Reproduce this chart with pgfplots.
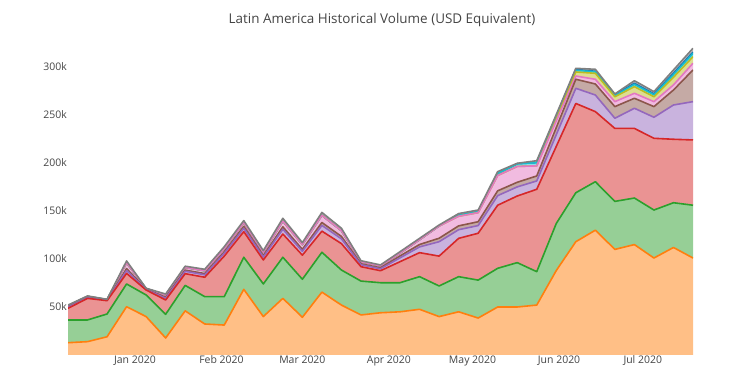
\documentclass[border=0pt]{standalone}
\usepackage{pgfplots}
\pgfplotsset{compat=1.18}
\usepackage{pgfplotstable}
\usepgfplotslibrary{fillbetween}
\usepackage{fontspec}
\setmainfont{Open Sans}
\definecolor{cO}{HTML}{FF7F0E}
\definecolor{cG}{HTML}{2CA02C}
\definecolor{cR}{HTML}{D62728}
\definecolor{cP}{HTML}{9467BD}
\definecolor{cB}{HTML}{8C564B}
\definecolor{cK}{HTML}{E377C2}
\definecolor{cL}{HTML}{BCBD22}
\definecolor{cC}{HTML}{17BECF}
\definecolor{cU}{HTML}{1F77B4}
\definecolor{cY}{HTML}{7F7F7F}
\definecolor{txt}{HTML}{444444}
% cumulative stacked values, thousands USD
\pgfplotstableread{
x O G R P B K L C U Y
-24 12.8 36.5 48.6 49.6 50.1 51.3 51.3 51.3 51.3 52.0
-17 13.9 36.5 59.0 59.7 60.1 61.0 61.0 61.0 61.0 61.5
-10 19.0 42.7 56.6 57.0 57.2 57.7 57.7 57.7 57.7 58.0
-3 50.3 74.0 85.0 88.0 90.0 96.0 96.0 96.0 96.0 98.0
4 40.0 62.5 67.7 68.2 68.5 69.1 69.1 69.1 69.1 69.5
11 17.7 42.4 57.3 59.1 60.1 62.5 62.5 62.5 62.5 63.5
18 46.0 72.5 84.7 87.2 88.4 91.2 91.2 91.2 91.2 92.5
25 32.3 60.8 81.0 83.5 84.8 87.8 87.8 87.8 87.8 89.3
32 31.2 60.8 103.0 106.0 107.5 111.0 111.0 111.0 111.0 112.8
39 68.4 101.8 128.5 132.0 134.0 138.0 138.0 138.0 138.0 140.0
46 40.0 74.0 99.0 102.0 103.5 107.0 107.0 107.0 107.0 108.7
53 59.0 101.8 126.0 131.0 133.5 139.5 139.5 139.5 139.5 142.4
60 39.3 78.9 104.0 108.0 110.0 115.0 115.0 115.0 115.0 117.0
67 65.5 107.0 129.0 135.0 138.0 145.5 145.5 145.5 145.5 148.5
74 52.0 88.5 116.0 121.0 123.5 129.5 129.5 129.5 129.5 132.0
81 41.7 77.0 92.0 94.0 95.0 97.2 97.2 97.2 97.2 98.2
88 44.0 75.3 87.8 89.8 90.8 92.8 92.8 92.8 92.8 93.8
95 45.0 75.3 97.2 101.2 103.2 106.2 106.2 106.2 106.2 107.6
102 47.6 81.6 106.6 112.6 115.1 120.1 120.1 120.1 120.1 121.5
109 40.0 71.9 103.0 118.0 121.6 134.4 134.4 134.4 134.4 135.4
116 45.0 81.6 121.5 130.5 134.5 144.5 144.5 145.5 145.5 147.3
123 38.5 78.0 126.8 134.8 138.8 148.3 148.3 149.3 149.3 151.0
130 50.0 90.3 156.0 166.0 171.0 187.0 187.0 189.0 189.0 191.0
137 50.0 96.2 165.6 175.1 179.9 196.4 196.4 199.2 199.2 199.7
144 52.0 86.8 172.6 181.3 186.5 197.0 197.0 200.4 200.4 202.4
151 88.0 137.0 217.3 229.5 236.9 243.8 245.9 248.5 249.0 250.5
158 118.0 169.0 262.0 277.8 287.2 290.6 294.8 296.5 297.5 298.6
165 130.0 180.5 253.5 270.8 282.3 287.2 293.4 294.9 295.5 297.6
172 110.0 160.0 236.0 246.6 258.7 263.9 269.0 270.2 271.0 271.9
179 115.0 163.5 236.0 257.0 267.4 272.6 279.5 281.8 283.0 285.7
186 101.0 151.0 225.7 247.6 258.7 263.9 269.0 271.0 272.0 274.3
193 112.0 158.6 224.7 260.4 276.0 281.3 289.3 292.0 293.5 296.9
200 101.0 156.0 224.0 263.9 296.9 303.9 310.7 314.0 315.5 319.5
}\data
\begin{document}
\begin{tikzpicture}
\begin{axis}[
  scale only axis, width=625bp, height=315bp,
  xmin=-24, xmax=200, ymin=0, ymax=328.1,
  axis line style={draw=none}, tick style={draw=none},
  major tick length=0pt,
  xtick={0,31,60,91,121,152,182},
  xticklabels={Jan 2020,Feb 2020,Mar 2020,Apr 2020,May 2020,Jun 2020,Jul 2020},
  ytick={50,100,150,200,250,300},
  yticklabels={50k,100k,150k,200k,250k,300k},
  ticklabel style={font=\fontsize{10.5}{12}\selectfont, text=txt},
  yticklabel style={inner sep=1bp},
  xticklabel style={yshift=3bp},
  /pgf/number format/assume math mode=true,
  title={Latin America Historical Volume (USD Equivalent)},
  title style={at={(axis description cs:0.5024,1)}, anchor=center, yshift=14bp, font=\fontsize{13.5}{16}\selectfont, text=txt},
  every axis plot/.append style={line join=round},
]
\addplot[draw=none, name path=Z] coordinates {(-24,0) (200,0)};
\addplot[draw=none, name path=nO] table[x=x,y=O]{\data};
\addplot[draw=none, name path=nG] table[x=x,y=G]{\data};
\addplot[draw=none, name path=nR] table[x=x,y=R]{\data};
\addplot[draw=none, name path=nP] table[x=x,y=P]{\data};
\addplot[draw=none, name path=nB] table[x=x,y=B]{\data};
\addplot[draw=none, name path=nK] table[x=x,y=K]{\data};
\addplot[draw=none, name path=nL] table[x=x,y=L]{\data};
\addplot[draw=none, name path=nC] table[x=x,y=C]{\data};
\addplot[draw=none, name path=nU] table[x=x,y=U]{\data};
\addplot[draw=none, name path=nY] table[x=x,y=Y]{\data};
\addplot[fill=cO!50] fill between[of=nO and Z];
\addplot[fill=cG!50] fill between[of=nG and nO];
\addplot[fill=cR!50] fill between[of=nR and nG];
\addplot[fill=cP!50] fill between[of=nP and nR];
\addplot[fill=cB!50] fill between[of=nB and nP];
\addplot[fill=cK!50] fill between[of=nK and nB];
\addplot[fill=cL!50] fill between[of=nL and nK];
\addplot[fill=cC!50] fill between[of=nC and nL];
\addplot[fill=cU!50] fill between[of=nU and nC];
\addplot[fill=cY!50] fill between[of=nY and nU];
\addplot[cU, line width=1.6bp] table[x=x,y=U]{\data};
\addplot[cC, line width=1.6bp] table[x=x,y=C]{\data};
\addplot[cL, line width=1.6bp] table[x=x,y=L]{\data};
\addplot[cK, line width=1.6bp] table[x=x,y=K]{\data};
\addplot[cB, line width=1.6bp] table[x=x,y=B]{\data};
\addplot[cP, line width=1.6bp] table[x=x,y=P]{\data};
\addplot[cR, line width=1.6bp] table[x=x,y=R]{\data};
\addplot[cG, line width=1.6bp] table[x=x,y=G]{\data};
\addplot[cO, line width=1.6bp] table[x=x,y=O]{\data};
\addplot[cY, line width=1.6bp] table[x=x,y=Y]{\data};
\end{axis}
\pgfresetboundingbox
\useasboundingbox (-68bp,-22bp) rectangle (682bp,355bp);
\end{tikzpicture}
\end{document}
